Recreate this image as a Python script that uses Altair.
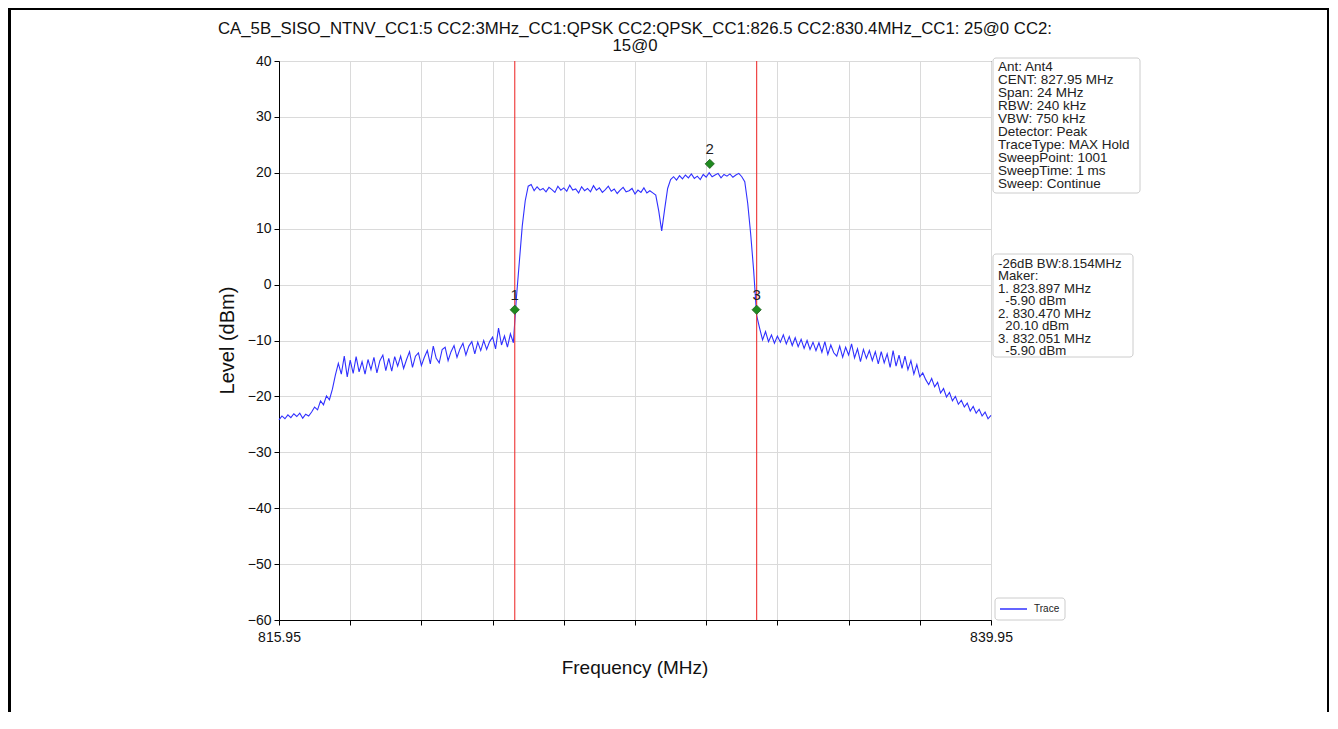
import altair as alt
import pandas as pd

# ---------------- data ----------------
f_start = 815.95
f_step = 0.1
levels = [
    -24.2, -23.5, -24.0, -23.3, -23.8, -23.1, -23.6, -23.0, -23.9, -23.2, -23.5,
    -22.8, -21.9, -22.4, -20.8, -21.5, -19.9, -20.6, -18.7, -16.2, -14.1,
    -16.0, -12.8, -16.5, -13.5, -15.9, -12.9, -15.6, -13.8, -16.0, -13.4,
    -15.2, -13.0, -15.8, -13.6, -12.6, -15.4, -13.2, -15.5, -12.9, -14.6,
    -12.8, -15.0, -13.4, -12.0, -14.8, -12.8, -12.2, -14.5, -13.0, -11.8,
    -14.2, -11.0, -13.2, -14.0, -11.6, -11.2, -13.6, -12.0, -10.9, -13.0,
    -11.5, -10.5, -12.6, -11.0, -10.2, -12.4, -10.3, -11.8, -10.0, -11.6,
    -10.2, -9.4, -11.5, -7.8, -10.8, -9.2, -11.2, -8.8, -10.4,
    -2.5, 4.0, 10.5, 15.0, 17.6,
    17.9, 16.8, 17.5, 16.9, 17.2, 16.6, 17.4, 17.0, 16.5, 17.6, 16.9,
    17.3, 16.7, 17.8, 16.9, 17.1, 16.4, 17.5, 16.8, 17.2, 16.6,
    17.7, 16.9, 17.3, 16.5, 17.0, 17.6, 16.7, 17.1, 16.3, 16.9,
    17.4, 16.6, 16.8, 17.2, 16.2, 16.9, 16.5, 17.3, 16.4, 16.8,
    16.4, 16.0, 13.2, 9.6, 13.5, 17.2, 18.8,
    19.3, 18.7, 19.5, 18.9, 19.6, 19.1, 19.8, 19.0, 19.4, 18.8,
    19.7, 19.2, 20.0, 19.3, 19.6, 19.9, 19.1, 19.7, 19.4, 19.8,
    19.2, 19.6, 19.9, 19.3, 18.4,
    14.5, 9.0, 2.5, -5.5,
    -7.8, -9.9, -8.4, -10.2, -9.0, -10.5, -9.2, -10.3, -9.0,
    -10.6, -9.3, -10.9, -9.5, -11.1, -9.8, -11.4, -10.0, -11.6, -10.3,
    -11.8, -10.4, -12.1, -10.2, -12.5, -10.8, -12.2, -12.8, -11.0, -13.0,
    -11.2, -12.6, -10.6, -13.1, -11.5, -13.8, -11.6, -13.2, -11.8, -13.6,
    -12.0, -14.2, -12.0, -14.0, -12.4, -14.8, -11.8, -14.6, -12.6, -15.0,
    -12.8, -15.2, -13.6, -16.0, -14.3, -16.5, -15.8, -17.0, -17.9, -16.8,
    -18.3, -17.5, -19.4, -18.6, -20.1, -19.3, -20.8, -20.0, -21.4, -20.7,
    -21.9, -21.2, -22.6, -21.8, -23.0, -22.3, -23.5, -22.8, -24.0, -23.4,
]
freqs = [round(f_start + f_step * i, 2) for i in range(len(levels))]

marker_ids = ["1", "2", "3"]
marker_freqs = [823.897, 830.470, 832.051]
marker_levels = [-4.5, 21.6, -4.5]
line_freqs = [823.897, 832.051]

x_domain = [815.95, 839.95]
y_domain = [-60, 40]
x_ticks = [round(815.95 + 2.4 * k, 2) for k in range(11)]
y_ticks = [-60, -50, -40, -30, -20, -10, 0, 10, 20, 30, 40]

title_lines = [
    "CA_5B_SISO_NTNV_CC1:5 CC2:3MHz_CC1:QPSK CC2:QPSK_CC1:826.5 CC2:830.4MHz_CC1: 25@0 CC2:",
    "15@0",
]
info_lines = [
    "Ant: Ant4",
    "CENT: 827.95 MHz",
    "Span: 24 MHz",
    "RBW: 240 kHz",
    "VBW: 750 kHz",
    "Detector: Peak",
    "TraceType: MAX Hold",
    "SweepPoint: 1001",
    "SweepTime: 1 ms",
    "Sweep: Continue",
]
IND = "\u200b\u00a0\u00a0"  # keeps the indent of the level lines
marker_lines = [
    "-26dB BW:8.154MHz",
    "Maker:",
    "1. 823.897 MHz",
    IND + "-5.90 dBm",
    "2. 830.470 MHz",
    IND + "20.10 dBm",
    "3. 832.051 MHz",
    IND + "-5.90 dBm",
]
legend_label = "Trace"
x_title = "Frequency (MHz)"
y_title = "Level (dBm)"

FONT = "Liberation Sans"
W, H = 712, 559

trace_df = pd.DataFrame({"freq": freqs, "level": levels})
mk_df = pd.DataFrame({"id": marker_ids, "freq": marker_freqs, "level": marker_levels})
vl_df = pd.DataFrame({"freq": line_freqs})
one = alt.Data(values=[{"a": 1}])

xs = alt.Scale(domain=x_domain, nice=False, zero=False)
ys = alt.Scale(domain=y_domain, nice=False, zero=False)

x_enc = alt.X(
    "freq:Q", scale=xs, title=None,
    axis=alt.Axis(
        values=x_ticks, format=".2f",
        labelExpr="(datum.value < 816 || datum.value > 839.9) ? format(datum.value, '.2f') : ''",
        labelFlush=False, labelOverlap=False, labelPadding=5, tickSize=5,
        grid=True,
    ),
)
y_enc = alt.Y(
    "level:Q", scale=ys, title=None,
    axis=alt.Axis(values=y_ticks, labelPadding=3, tickSize=5, grid=True),
)

trace = alt.Chart(trace_df).mark_line(color="#3030ff", strokeWidth=1.1).encode(
    x=x_enc, y=y_enc
)

vlines = alt.Chart(vl_df).mark_rule(color="#ee3333", strokeWidth=1.1).encode(
    x=alt.X("freq:Q", scale=xs)
)

markers = alt.Chart(mk_df).mark_point(
    shape="diamond", filled=True, size=85, color="#1f8a1f", opacity=1,
    stroke="#1d5e1d", strokeWidth=0.8,
).encode(x=alt.X("freq:Q", scale=xs), y=alt.Y("level:Q", scale=ys))

marker_text = alt.Chart(mk_df).mark_text(
    font=FONT, fontSize=15, color="#222222", dy=-15
).encode(x=alt.X("freq:Q", scale=xs), y=alt.Y("level:Q", scale=ys), text="id:N")

title_mark = alt.Chart(one).mark_text(
    text=title_lines, font=FONT, fontSize=16.8, lineHeight=17, align="center",
    baseline="alphabetic", color="#111111",
).encode(x=alt.value(W / 2), y=alt.value(-27))

xtitle_mark = alt.Chart(one).mark_text(
    text=x_title, font=FONT, fontSize=19, align="center", baseline="middle", color="#111111"
).encode(x=alt.value(W / 2), y=alt.value(607))

ytitle_mark = alt.Chart(one).mark_text(
    text=y_title, font=FONT, fontSize=20, align="center", baseline="middle",
    angle=270, color="#111111",
).encode(x=alt.value(-51), y=alt.value(279.5))

box1 = alt.Chart(one).mark_rect(
    fill="white", stroke="#cccccc", strokeWidth=1, cornerRadius=3
).encode(x=alt.value(714), x2=alt.value(861), y=alt.value(-3), y2=alt.value(132))
box1_text = alt.Chart(one).mark_text(
    text=info_lines, font=FONT, fontSize=13.5, lineHeight=13, align="left",
    baseline="alphabetic", color="#222222",
).encode(x=alt.value(719), y=alt.value(10))

box2 = alt.Chart(one).mark_rect(
    fill="white", stroke="#cccccc", strokeWidth=1, cornerRadius=3
).encode(x=alt.value(714), x2=alt.value(854), y=alt.value(193), y2=alt.value(296))
box2_text = alt.Chart(one).mark_text(
    text=marker_lines, font=FONT, fontSize=13.2, lineHeight=12.5, align="left",
    baseline="alphabetic", color="#222222",
).encode(x=alt.value(719), y=alt.value(206.5))

leg_box = alt.Chart(one).mark_rect(
    fill="white", stroke="#cccccc", strokeWidth=1, cornerRadius=3
).encode(x=alt.value(716), x2=alt.value(786), y=alt.value(537), y2=alt.value(559))
leg_line = alt.Chart(one).mark_rule(color="#3030ff", strokeWidth=1.5).encode(
    x=alt.value(721), x2=alt.value(748), y=alt.value(548)
)
leg_text = alt.Chart(one).mark_text(
    text=legend_label, font=FONT, fontSize=10, align="left", baseline="middle", color="#222222"
).encode(x=alt.value(755), y=alt.value(548))

# document frame lines seen round the screenshot
frame_left = alt.Chart(one).mark_rule(color="black", strokeWidth=3).encode(
    x=alt.value(-269.5), y=alt.value(-53), y2=alt.value(651)
)
frame_top = alt.Chart(one).mark_rule(color="black", strokeWidth=2).encode(
    x=alt.value(-271), x2=alt.value(1050), y=alt.value(-52)
)
frame_right = alt.Chart(one).mark_rule(color="black", strokeWidth=2).encode(
    x=alt.value(1049), y=alt.value(-53), y2=alt.value(651)
)

chart = alt.layer(
    trace, vlines, markers, marker_text, title_mark, xtitle_mark, ytitle_mark,
    box1, box1_text, box2, box2_text, leg_box, leg_line, leg_text,
    frame_left, frame_top, frame_right,
).properties(
    width=W, height=H,
    padding={"left": 271, "top": 53, "right": 339, "bottom": 92},
    autosize=alt.AutoSizeParams(type="none"),
    background="white",
).configure_view(
    stroke="black", strokeWidth=1
).configure_axis(
    labelFont=FONT, labelFontSize=14, labelColor="#111111",
    tickColor="black", domainColor="black", domainWidth=1, tickWidth=1,
    gridColor="#dadada", gridWidth=1,
)

chart.save("out.html", embed_options={"renderer": "svg", "actions": False})
